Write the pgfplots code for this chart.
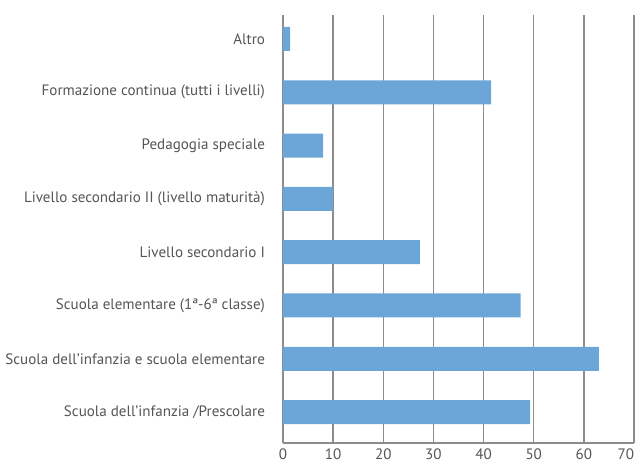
\documentclass[border=0pt]{standalone}
\usepackage{fontspec}
\setmainfont{PT Sans}
\usepackage{pgfplots}
\pgfplotsset{compat=1.18}
\definecolor{barblue}{HTML}{6CA6D9}
\definecolor{gridgray}{HTML}{8C8C8C}
\definecolor{labelgray}{HTML}{555555}

\begin{document}
\begin{tikzpicture}
  \path[use as bounding box] (-212.25pt,-15pt) rectangle (264pt,332.25pt);
  \begin{axis}[
      scale only axis,
      width=263.25pt, height=321pt,
      xbar, bar width=18pt,
      xmin=0, xmax=70,
      ymin=-0.58, ymax=7.45,
      xtick={0,10,...,70},
      xticklabels={0,10,20,30,40,50,60,\makebox[0pt][r]{70}},
      ytick={0,...,7},
      yticklabels={Scuola dell’infanzia /Prescolare,
                   Scuola dell’infanzia e scuola elementare,
                   Scuola elementare (1ª-6ª classe),
                   Livello secondario I,
                   Livello secondario II (livello maturità),
                   Pedagogia speciale,
                   Formazione continua (tutti i livelli),
                   Altro},
      xmajorgrids,
      major grid style={gridgray, line width=1pt},
      axis x line*=bottom, axis y line*=left,
      axis line style={gridgray, line width=1pt, -},
      major tick length=0pt,
      tick label style={font=\fontsize{11.3}{13}\selectfont, text=labelgray},
      yticklabel style={xshift=-10pt},
      xticklabel style={yshift=-1pt},
    ]
    \addplot[fill=barblue, draw=none] coordinates {
      (49.3,0) (63.0,1) (47.4,2) (27.3,3) (10.0,4) (8.0,5) (41.5,6) (1.4,7)
    };
  \end{axis}
\end{tikzpicture}
\end{document}
